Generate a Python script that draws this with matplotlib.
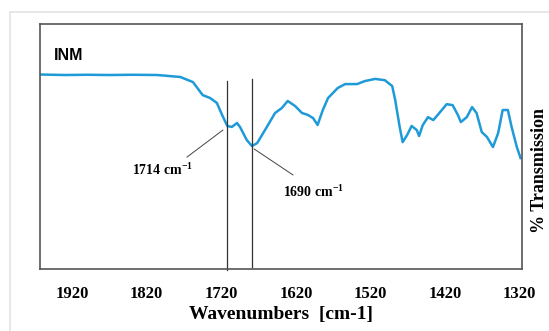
import matplotlib
matplotlib.use('Agg')
import matplotlib.pyplot as plt
from matplotlib import rcParams
from matplotlib.patches import Rectangle

rcParams['font.family'] = ['Liberation Serif', 'DejaVu Serif']
rcParams['mathtext.fontset'] = 'custom'
rcParams['mathtext.rm'] = 'Liberation Serif:bold'
rcParams['mathtext.default'] = 'rm'

# 数据：波数 (cm-1) 与透过率
wavenumber = [1963, 1930, 1900, 1870, 1840, 1806, 1775, 1758, 1745, 1735, 1726, 1719,
              1712, 1706, 1699, 1695, 1686, 1679, 1672, 1659, 1648, 1639, 1631, 1621,
              1612, 1604, 1597, 1591, 1584, 1577, 1564, 1554, 1538, 1528, 1514, 1501,
              1491, 1487, 1481, 1477, 1471, 1465, 1458, 1455, 1450, 1443, 1436, 1430,
              1418, 1410, 1403, 1399, 1391, 1384, 1378, 1371, 1364, 1356, 1349, 1343,
              1336, 1331, 1324, 1319]
transmission = [79.4, 79.2, 79.3, 79.2, 79.3, 79.2, 78.4, 76.3, 71.0, 69.8, 67.8, 62.9,
                58.4, 58.0, 59.6, 58.0, 52.7, 50.2, 51.4, 58.0, 63.7, 65.7, 68.6, 66.5,
                63.7, 62.9, 61.6, 58.8, 64.9, 69.8, 73.9, 75.5, 75.5, 76.7, 77.6, 77.1,
                74.7, 69.0, 58.0, 51.8, 54.7, 58.4, 56.7, 54.3, 58.8, 62.0, 60.8, 62.9,
                67.3, 66.9, 62.9, 60.0, 62.0, 66.1, 63.7, 55.9, 53.9, 49.8, 55.5, 64.9,
                64.9, 58.0, 49.8, 45.3]
xticks = [1920, 1820, 1720, 1620, 1520, 1420, 1320]
peaks = [1712, 1679]
peak_labels = ['1714 cm$^{-1}$', '1690 cm$^{-1}$']

fig = plt.figure(figsize=(5.49, 3.31), dpi=100)
ax = fig.add_axes([0.0729, 0.1873, 0.878, 0.740])

# 外框
fig.patches.append(Rectangle((10 / 549, -0.1), 1.2, (331 - 12) / 331 + 0.1,
                             transform=fig.transFigure, fill=False,
                             edgecolor='#e3e3e3', lw=1.2))

ax.plot(wavenumber, transmission, color='#1f9ad8', lw=1.8)
ax.set_xlim(1963, 1317)
ax.set_ylim(0, 100)

# 峰位竖线
ax.plot([peaks[0], peaks[0]], [76.7, -0.5], color='#333333', lw=0.9, clip_on=False)
ax.plot([peaks[1], peaks[1]], [77.6, 0.8], color='#333333', lw=0.9)

# 标注
ax.plot([1766, 1718], [45.7, 56.7], color='#444444', lw=0.7)
ax.plot([1676, 1624], [49.0, 38.4], color='#444444', lw=0.7)
ax.text(1799, 40.4, peak_labels[0], ha='center', va='center', fontsize=10, fontweight='bold')
ax.text(1596, 31.4, peak_labels[1], ha='center', va='center', fontsize=10, fontweight='bold')

ax.text(1944, 87, 'INM', family='Liberation Sans', fontweight='bold', fontsize=11.5,
        ha='left', va='center')

ax.set_xticks(xticks)
ax.set_xticklabels([str(t) for t in xticks], fontweight='bold', fontsize=12)
ax.set_yticks([])
ax.tick_params(axis='x', length=0, pad=12)
ax.set_xlabel('Wavenumbers  [cm-1]', fontweight='bold', fontsize=14, labelpad=3)
for s in ax.spines.values():
    s.set_color('#555555')
    s.set_linewidth(1.2)

fig.text(0.982, 0.486, '% Transmission', rotation=90, ha='center', va='center',
         fontweight='bold', fontsize=13)

plt.savefig('out.png', dpi=100)
